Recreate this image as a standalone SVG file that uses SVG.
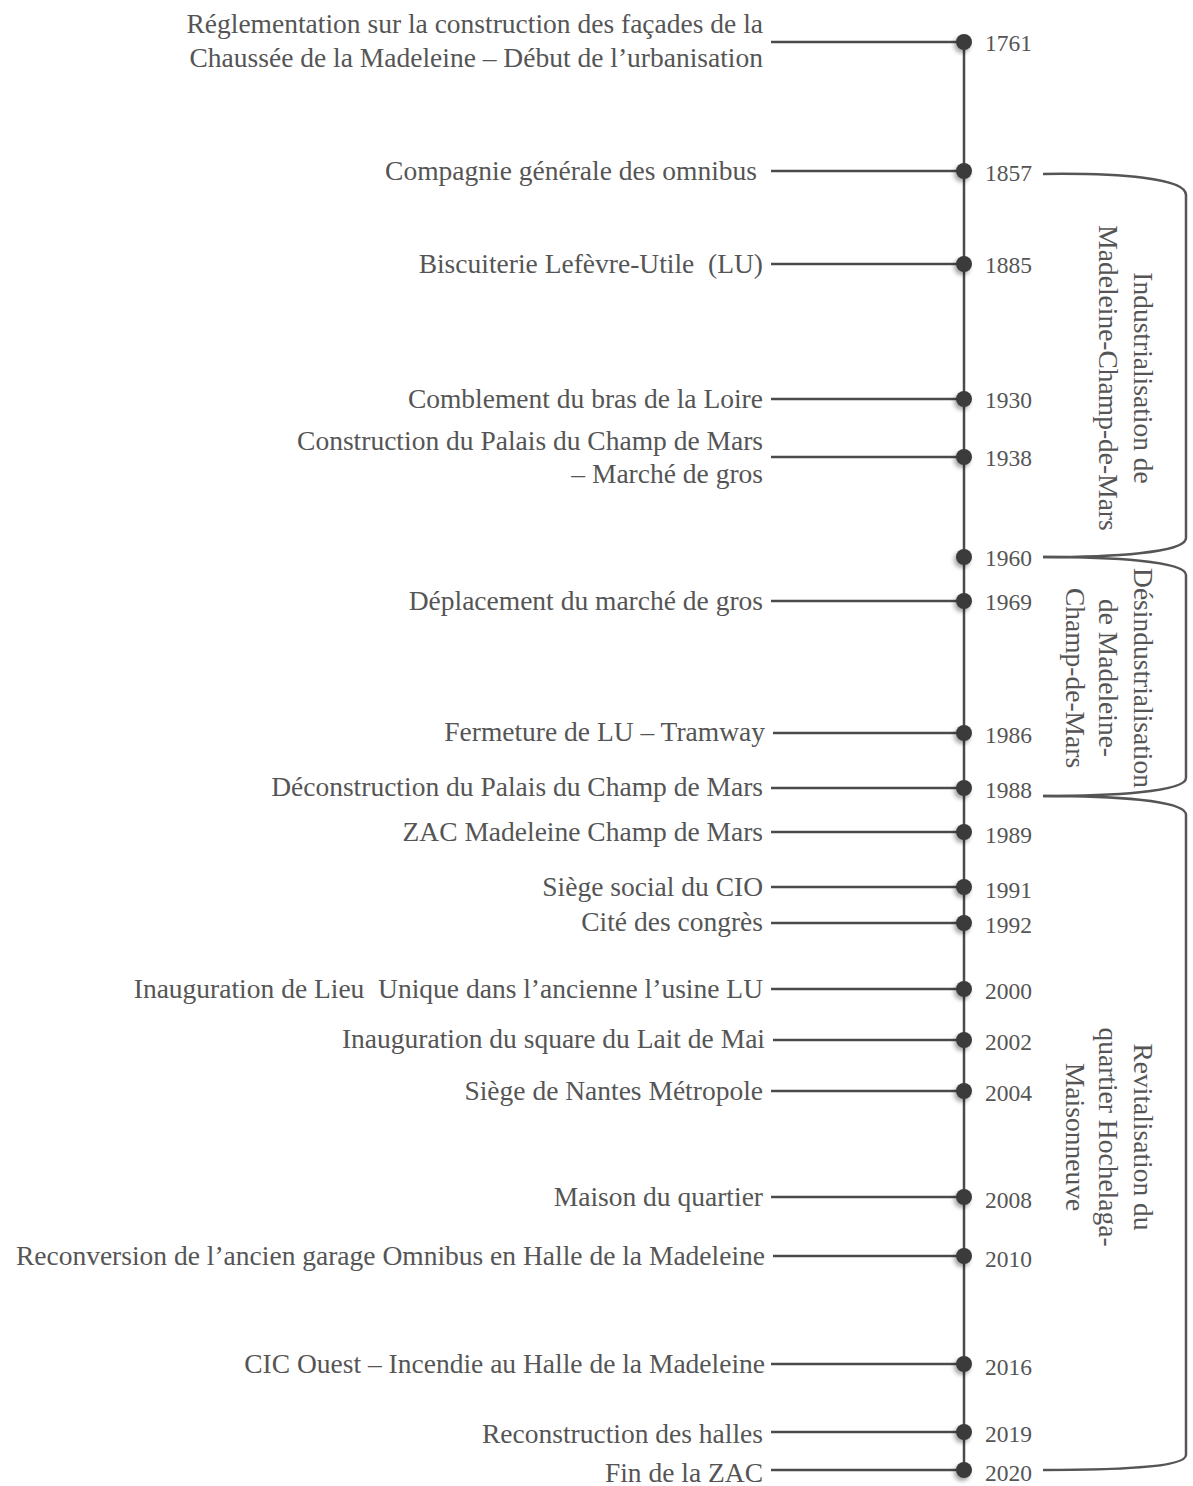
<svg xmlns="http://www.w3.org/2000/svg" width="1193" height="1486" viewBox="0 0 1193 1486">
  <defs>
    <filter id="dotShadow" x="-100%" y="-100%" width="300%" height="300%">
      <feDropShadow dx="-2" dy="3" stdDeviation="2" flood-color="#000" flood-opacity="0.35"/>
    </filter>
  </defs>
  <style>
    .lbl { font-family: "Liberation Serif", "Times New Roman", serif; font-size: 27.5px; fill: #555; text-anchor: end; }
    .yr { font-family: "Liberation Serif", "Times New Roman", serif; font-size: 23.5px; fill: #555; }
    .per { font-family: "Liberation Serif", "Times New Roman", serif; font-size: 27.5px; fill: #555; text-anchor: middle; }
    .link { stroke: #4a4a4a; stroke-width: 2.5; fill: none; }
    .brace { stroke: #555; stroke-width: 2.5; fill: none; }
    .dot { fill: #3a3a3a; filter: url(#dotShadow); }
  </style>
  <rect width="1193" height="1486" fill="#fff"/>

  <!-- timeline spine and label leaders -->
  <g id="connectors">
    <line class="link" x1="964" y1="42" x2="964" y2="1470"/>
    <line class="link" x1="771" y1="42" x2="964" y2="42"/>
    <line class="link" x1="771" y1="171" x2="964" y2="171"/>
    <line class="link" x1="771" y1="264" x2="964" y2="264"/>
    <line class="link" x1="771" y1="399" x2="964" y2="399"/>
    <line class="link" x1="771" y1="457" x2="964" y2="457"/>
    <line class="link" x1="771" y1="601" x2="964" y2="601"/>
    <line class="link" x1="773" y1="733" x2="964" y2="733"/>
    <line class="link" x1="771" y1="788" x2="964" y2="788"/>
    <line class="link" x1="771" y1="832" x2="964" y2="832"/>
    <line class="link" x1="771" y1="887" x2="964" y2="887"/>
    <line class="link" x1="771" y1="923" x2="964" y2="923"/>
    <line class="link" x1="771" y1="989" x2="964" y2="989"/>
    <line class="link" x1="773" y1="1040" x2="964" y2="1040"/>
    <line class="link" x1="771" y1="1091" x2="964" y2="1091"/>
    <line class="link" x1="771" y1="1197" x2="964" y2="1197"/>
    <line class="link" x1="773" y1="1256" x2="964" y2="1256"/>
    <line class="link" x1="771" y1="1364" x2="964" y2="1364"/>
    <line class="link" x1="771" y1="1432" x2="964" y2="1432"/>
    <line class="link" x1="771" y1="1470" x2="964" y2="1470"/>
  </g>

  <!-- events -->
  <g id="e1761">
    <circle class="dot" cx="964" cy="42" r="8"/>
    <text class="lbl" x="763" y="33">Réglementation sur la construction des façades de la</text>
    <text class="lbl" x="763" y="67">Chaussée de la Madeleine – Début de l’urbanisation</text>
    <text class="yr" x="985" y="51">1761</text>
  </g>
  <g id="e1857">
    <circle class="dot" cx="964" cy="171" r="8"/>
    <text class="lbl" x="757" y="180">Compagnie générale des omnibus</text>
    <text class="yr" x="985" y="181">1857</text>
  </g>
  <g id="e1885">
    <circle class="dot" cx="964" cy="264" r="8"/>
    <text class="lbl" x="763" y="273" xml:space="preserve">Biscuiterie Lefèvre-Utile  (LU)</text>
    <text class="yr" x="985" y="273">1885</text>
  </g>
  <g id="e1930">
    <circle class="dot" cx="964" cy="399" r="8"/>
    <text class="lbl" x="763" y="408">Comblement du bras de la Loire</text>
    <text class="yr" x="985" y="408">1930</text>
  </g>
  <g id="e1938">
    <circle class="dot" cx="964" cy="457" r="8"/>
    <text class="lbl" x="763" y="450">Construction du Palais du Champ de Mars</text>
    <text class="lbl" x="763" y="483">– Marché de gros</text>
    <text class="yr" x="985" y="466">1938</text>
  </g>
  <g id="e1960">
    <circle class="dot" cx="964" cy="557" r="8"/>
    <text class="yr" x="985" y="566">1960</text>
  </g>
  <g id="e1969">
    <circle class="dot" cx="964" cy="601" r="8"/>
    <text class="lbl" x="763" y="610">Déplacement du marché de gros</text>
    <text class="yr" x="985" y="610">1969</text>
  </g>
  <g id="e1986">
    <circle class="dot" cx="964" cy="733" r="8"/>
    <text class="lbl" x="765" y="741">Fermeture de LU – Tramway</text>
    <text class="yr" x="985" y="743">1986</text>
  </g>
  <g id="e1988">
    <circle class="dot" cx="964" cy="788" r="8"/>
    <text class="lbl" x="763" y="796">Déconstruction du Palais du Champ de Mars</text>
    <text class="yr" x="985" y="798">1988</text>
  </g>
  <g id="e1989">
    <circle class="dot" cx="964" cy="832" r="8"/>
    <text class="lbl" x="763" y="841">ZAC Madeleine Champ de Mars</text>
    <text class="yr" x="985" y="843">1989</text>
  </g>
  <g id="e1991">
    <circle class="dot" cx="964" cy="887" r="8"/>
    <text class="lbl" x="763" y="896">Siège social du CIO</text>
    <text class="yr" x="985" y="898">1991</text>
  </g>
  <g id="e1992">
    <circle class="dot" cx="964" cy="923" r="8"/>
    <text class="lbl" x="763" y="931">Cité des congrès</text>
    <text class="yr" x="985" y="933">1992</text>
  </g>
  <g id="e2000">
    <circle class="dot" cx="964" cy="989" r="8"/>
    <text class="lbl" x="763" y="998" xml:space="preserve">Inauguration de Lieu  Unique dans l’ancienne l’usine LU</text>
    <text class="yr" x="985" y="999">2000</text>
  </g>
  <g id="e2002">
    <circle class="dot" cx="964" cy="1040" r="8"/>
    <text class="lbl" x="765" y="1048">Inauguration du square du Lait de Mai</text>
    <text class="yr" x="985" y="1050">2002</text>
  </g>
  <g id="e2004">
    <circle class="dot" cx="964" cy="1091" r="8"/>
    <text class="lbl" x="763" y="1100">Siège de Nantes Métropole</text>
    <text class="yr" x="985" y="1101">2004</text>
  </g>
  <g id="e2008">
    <circle class="dot" cx="964" cy="1197" r="8"/>
    <text class="lbl" x="763" y="1206">Maison du quartier</text>
    <text class="yr" x="985" y="1208">2008</text>
  </g>
  <g id="e2010">
    <circle class="dot" cx="964" cy="1256" r="8"/>
    <text class="lbl" x="765" y="1265">Reconversion de l’ancien garage Omnibus en Halle de la Madeleine</text>
    <text class="yr" x="985" y="1267">2010</text>
  </g>
  <g id="e2016">
    <circle class="dot" cx="964" cy="1364" r="8"/>
    <text class="lbl" x="765" y="1373">CIC Ouest – Incendie au Halle de la Madeleine</text>
    <text class="yr" x="985" y="1375">2016</text>
  </g>
  <g id="e2019">
    <circle class="dot" cx="964" cy="1432" r="8"/>
    <text class="lbl" x="763" y="1443">Reconstruction des halles</text>
    <text class="yr" x="985" y="1442">2019</text>
  </g>
  <g id="e2020">
    <circle class="dot" cx="964" cy="1470" r="8"/>
    <text class="lbl" x="763" y="1482">Fin de la ZAC</text>
    <text class="yr" x="985" y="1481">2020</text>
  </g>

  <!-- period braces -->
  <g id="period-industrialisation">
    <path class="brace" d="M1043 174 C1120 173 1186 178 1186 195 L1186 538 C1186 553 1110 557 1043 557"/>
    <g transform="translate(1143,378) rotate(90)">
      <text class="per" x="0" y="9">Industrialisation de</text>
      <text class="per" x="0" y="44">Madeleine-Champ-de-Mars</text>
    </g>
  </g>
  <g id="period-desindustrialisation">
    <path class="brace" d="M1043 557 C1110 557 1186 561 1186 575 L1186 778 C1186 792 1110 796 1043 796"/>
    <g transform="translate(1143,678) rotate(90)">
      <text class="per" x="0" y="9">Désindustrialisation</text>
      <text class="per" x="0" y="44">de Madeleine-</text>
      <text class="per" x="0" y="77">Champ-de-Mars</text>
    </g>
  </g>
  <g id="period-revitalisation">
    <path class="brace" d="M1043 796 C1110 796 1186 800 1186 815 L1186 1455 C1186 1468 1110 1470 1043 1470"/>
    <g transform="translate(1143,1137) rotate(90)">
      <text class="per" x="0" y="9">Revitalisation du</text>
      <text class="per" x="0" y="44">quartier Hochelaga-</text>
      <text class="per" x="0" y="77">Maisonneuve</text>
    </g>
  </g>
</svg>
